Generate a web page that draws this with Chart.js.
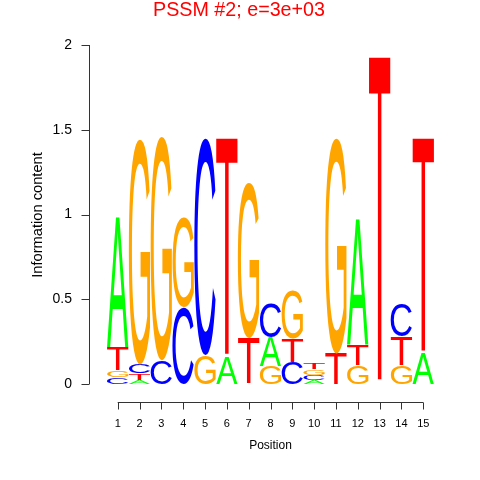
<!DOCTYPE html>
<html>
<head>
<meta charset="utf-8">
<script src="https://cdn.jsdelivr.net/npm/chart.js@4/dist/chart.umd.min.js"></script>
<style>
  body { margin: 0; background: #fff; }
  canvas { display: block; }
</style>
</head>
<body>
<canvas id="myCanvas" width="480" height="480"></canvas>
<script>
// information content of each letter, per position
const positions = ['1', '2', '3', '4', '5', '6', '7', '8', '9', '10', '11', '12', '13', '14', '15'];
const letters = ['A', 'C', 'G', 'T'];
const heightA = [0.76, 0.025, 0, 0, 0, 0.16, 0, 0.17, 0, 0.025, 0, 0.74, 0, 0, 0.18];
const heightC = [0.04, 0.05, 0.14, 0.45, 1.28, 0, 0, 0.20, 0.13, 0.03, 0, 0, 0, 0.195, 0];
const heightG = [0.04, 1.33, 1.32, 0.53, 0.17, 0, 0.92, 0.105, 0.29, 0.03, 1.27, 0.11, 0, 0.11, 0];
const heightT = [0.14, 0.04, 0, 0, 0, 1.29, 0.27, 0, 0.14, 0.04, 0.18, 0.12, 1.93, 0.17, 1.27];
const yTicks = [0, 0.5, 1, 1.5, 2];

const letterColors = { A: '#00FF00', C: '#0000FF', G: '#FFA500', T: '#FF0000' };
const heights = { A: heightA, C: heightC, G: heightG, T: heightT };

// smallest letter at the bottom of each stack
const layers = letters.map(() => ({ data: [], chars: [] }));
positions.forEach((p, i) => {
  const sorted = letters
    .map(l => ({ l, h: heights[l][i] }))
    .sort((a, b) => a.h - b.h);
  sorted.forEach((s, k) => {
    layers[k].data.push(s.h);
    layers[k].chars.push(s.l);
  });
});

const logoPlugin = {
  id: 'logo',
  afterDatasetsDraw(chart) {
    const ctx = chart.ctx;
    chart.data.datasets.forEach((ds, i) => {
      chart.getDatasetMeta(i).data.forEach((bar, j) => {
        const { x, y, base, width } = bar.getProps(['x', 'y', 'base', 'width'], true);
        const h = base - y;
        if (h < 0.5) return;
        const ch = ds.chars[j];
        ctx.save();
        ctx.font = '100px "Liberation Sans", Arial, sans-serif';
        ctx.textAlign = 'left';
        ctx.textBaseline = 'alphabetic';
        const m = ctx.measureText(ch);
        const gw = m.actualBoundingBoxLeft + m.actualBoundingBoxRight;
        const gh = m.actualBoundingBoxAscent + m.actualBoundingBoxDescent;
        ctx.translate(x - width / 2, y);
        ctx.scale(width / gw, h / gh);
        ctx.fillStyle = letterColors[ch];
        ctx.fillText(ch, m.actualBoundingBoxLeft, m.actualBoundingBoxAscent);
        ctx.restore();
      });
    });
  }
};

const axesPlugin = {
  id: 'rAxes',
  afterDraw(chart) {
    const ctx = chart.ctx;
    const xs = chart.scales.x, ys = chart.scales.y;
    ctx.save();
    ctx.strokeStyle = '#333';
    ctx.fillStyle = '#000';
    ctx.lineWidth = 1;

    // y axis
    const ax = 89.5;
    ctx.beginPath();
    ctx.moveTo(ax, ys.getPixelForValue(0));
    ctx.lineTo(ax, ys.getPixelForValue(2));
    yTicks.forEach(v => {
      const py = Math.round(ys.getPixelForValue(v)) + 0.5;
      ctx.moveTo(ax, py);
      ctx.lineTo(ax - 8, py);
    });
    ctx.stroke();
    ctx.font = '14px "Liberation Sans", Arial, sans-serif';
    ctx.textAlign = 'right';
    ctx.textBaseline = 'middle';
    yTicks.forEach(v => ctx.fillText(String(v), 72, ys.getPixelForValue(v)));

    // x axis
    const ay = 402.5;
    ctx.beginPath();
    ctx.moveTo(xs.getPixelForValue(0), ay);
    ctx.lineTo(xs.getPixelForValue(positions.length - 1), ay);
    positions.forEach((p, i) => {
      const px = Math.round(xs.getPixelForValue(i)) + 0.5;
      ctx.moveTo(px, ay);
      ctx.lineTo(px, ay + 7);
    });
    ctx.stroke();
    ctx.font = '11px "Liberation Sans", Arial, sans-serif';
    ctx.textAlign = 'center';
    positions.forEach((p, i) => ctx.fillText(p, xs.getPixelForValue(i), 424));

    ctx.font = '12px "Liberation Sans", Arial, sans-serif';
    ctx.fillText('Position', (xs.getPixelForValue(0) + xs.getPixelForValue(14)) / 2, 446);

    ctx.save();
    ctx.translate(38, 215);
    ctx.rotate(-Math.PI / 2);
    ctx.font = '14.7px "Liberation Sans", Arial, sans-serif';
    ctx.fillText('Information content', 0, 0);
    ctx.restore();

    ctx.fillStyle = '#FF0000';
    ctx.font = '19.7px "Liberation Sans", Arial, sans-serif';
    ctx.fillText('PSSM #2; e=3e+03', 239, 11);
    ctx.restore();
  }
};

const ctx = document.getElementById('myCanvas').getContext('2d');
const chart = new Chart(ctx, {
  type: 'bar',
  data: {
    labels: positions,
    datasets: layers.map((layer, k) => ({
      label: 'layer ' + (k + 1),
      data: layer.data,
      chars: layer.chars,
      backgroundColor: 'rgba(0,0,0,0)',
      borderWidth: 0,
      barPercentage: 0.98,
      categoryPercentage: 1
    }))
  },
  options: {
    responsive: false,
    animation: false,
    layout: { padding: { left: 106.8, right: 45.8, top: 45, bottom: 96 } },
    scales: {
      x: { stacked: true, display: false, offset: true },
      y: { stacked: true, display: false, min: 0, max: 2 }
    },
    plugins: {
      legend: { display: false },
      tooltip: { enabled: false }
    }
  },
  plugins: [logoPlugin, axesPlugin]
});
</script>
</body>
</html>
